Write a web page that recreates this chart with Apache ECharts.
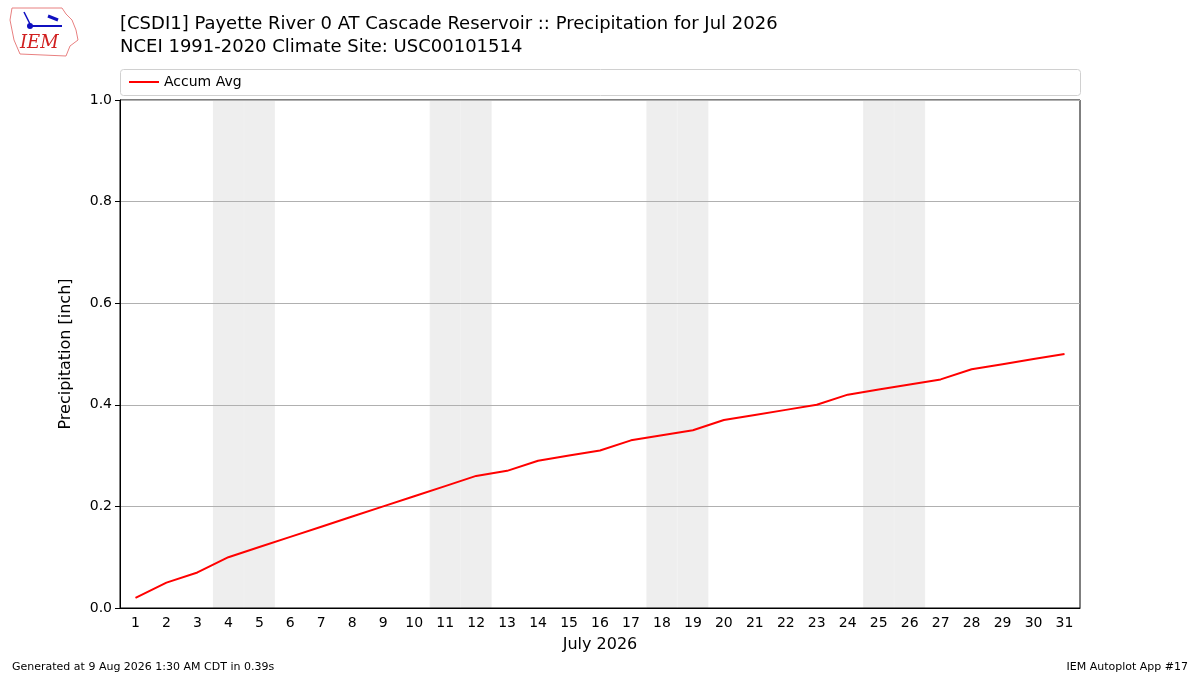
<!DOCTYPE html>
<html>
<head>
<meta charset="utf-8">
<script src="https://cdn.jsdelivr.net/npm/echarts@6/dist/echarts.min.js"></script>
<style>
  html, body { margin: 0; padding: 0; background: #fff; }
  #main { width: 1200px; height: 675px; }
</style>
</head>
<body>
<div id="main"></div>
<script>
var days = ['1','2','3','4','5','6','7','8','9','10','11','12','13','14','15','16',
  '17','18','19','20','21','22','23','24','25','26','27','28','29','30','31'];
var accumAvg = [0.02,0.05,0.07,0.10,0.12,0.14,0.16,0.18,0.20,0.22,0.24,0.26,0.27,0.29,0.30,0.31,
  0.33,0.34,0.35,0.37,0.38,0.39,0.40,0.42,0.43,0.44,0.45,0.47,0.48,0.49,0.50];
var weekendDays = ['4','5','11','12','18','19','25','26'];

var shade = days.map(function (d) { return weekendDays.indexOf(d) >= 0 ? 1.0 : null; });

var font = 'DejaVu Sans';
var chart = echarts.init(document.getElementById('main'));

chart.setOption({
  animation: false,
  textStyle: { fontFamily: font },
  title: [
    { text: '[CSDI1] Payette River 0 AT Cascade Reservoir :: Precipitation for Jul 2026',
      left: 115, top: 10, textStyle: { fontSize: 18, fontWeight: 'normal', color: '#000', fontFamily: font } },
    { text: 'NCEI 1991-2020 Climate Site: USC00101514',
      left: 115, top: 33, textStyle: { fontSize: 18, fontWeight: 'normal', color: '#000', fontFamily: font } },
    { text: 'Generated at 9 Aug 2026 1:30 AM CDT in 0.39s',
      left: 7, top: 657, textStyle: { fontSize: 11, fontWeight: 'normal', color: '#000', fontFamily: font } },
    { text: 'IEM Autoplot App #17',
      right: 7, top: 657, textStyle: { fontSize: 11, fontWeight: 'normal', color: '#000', fontFamily: font } }
  ],
  graphic: [
    { type: 'rect', shape: { x: 120.5, y: 69.5, width: 960, height: 26, r: 3 },
      style: { fill: '#fff', stroke: '#d0d0d0', lineWidth: 1 }, z: 0 },
    { type: 'text', left: 20, top: 34,
      style: { text: 'IEM', fill: '#d02020', font: 'italic 18px "DejaVu Serif"' } },
    { type: 'polyline', shape: { points: [[12,8],[62,8],[66,14],[72,20],[76,30],[78,40],[70,46],[66,56],[20,54],[14,40],[10,20],[12,8]] },
      style: { fill: 'none', stroke: '#e88080', lineWidth: 1 } },
    { type: 'line', shape: { x1: 30, y1: 26, x2: 62, y2: 26 }, style: { stroke: '#1010c0', lineWidth: 2 } },
    { type: 'circle', shape: { cx: 30, cy: 26, r: 3 }, style: { fill: '#1010c0' } },
    { type: 'line', shape: { x1: 48, y1: 16, x2: 58, y2: 20 }, style: { stroke: '#1010c0', lineWidth: 3 } },
    { type: 'line', shape: { x1: 24, y1: 12, x2: 30, y2: 24 }, style: { stroke: '#1010c0', lineWidth: 1.5 } }
  ],
  legend: {
    data: ['Accum Avg'],
    left: 124, top: 70,
    icon: 'rect', itemWidth: 30, itemHeight: 2, itemGap: 10,
    textStyle: { fontSize: 14, color: '#000', fontFamily: font }
  },
  grid: { left: 120, right: 120, top: 100, bottom: 67, show: true, borderColor: '#000', borderWidth: 1, backgroundColor: 'transparent' },
  xAxis: {
    type: 'category',
    data: days,
    boundaryGap: true,
    name: 'July 2026',
    nameLocation: 'middle',
    nameGap: 29,
    nameTextStyle: { fontSize: 16, color: '#000' },
    axisLine: { lineStyle: { color: '#000' } },
    axisTick: { alignWithLabel: true, length: 5, lineStyle: { color: '#000' } },
    axisLabel: { fontSize: 14, color: '#000', margin: 8, interval: 0 },
    splitLine: { show: false }
  },
  yAxis: {
    type: 'value',
    min: 0, max: 1.0, interval: 0.2,
    name: 'Precipitation [inch]',
    nameLocation: 'middle',
    nameGap: 46,
    nameTextStyle: { fontSize: 16, color: '#000' },
    axisLine: { show: true, lineStyle: { color: '#000' } },
    axisTick: { show: true, length: 5, lineStyle: { color: '#000' } },
    axisLabel: { fontSize: 14, color: '#000', margin: 8,
      formatter: function (v) { return v.toFixed(1); } },
    splitLine: { show: true, lineStyle: { color: '#b0b0b0', width: 1 } }
  },
  series: [
    { name: 'weekend', type: 'bar', data: shade, barWidth: '100%', barGap: '-100%',
      itemStyle: { color: '#eeeeee', borderColor: '#eeeeee', borderWidth: 1 }, silent: true, z: -1 },
    { name: 'Accum Avg', type: 'line', data: accumAvg, symbol: 'none',
      lineStyle: { color: '#ff0000', width: 2 }, itemStyle: { color: '#ff0000' }, z: 5 }
  ]
});
</script>
</body>
</html>
